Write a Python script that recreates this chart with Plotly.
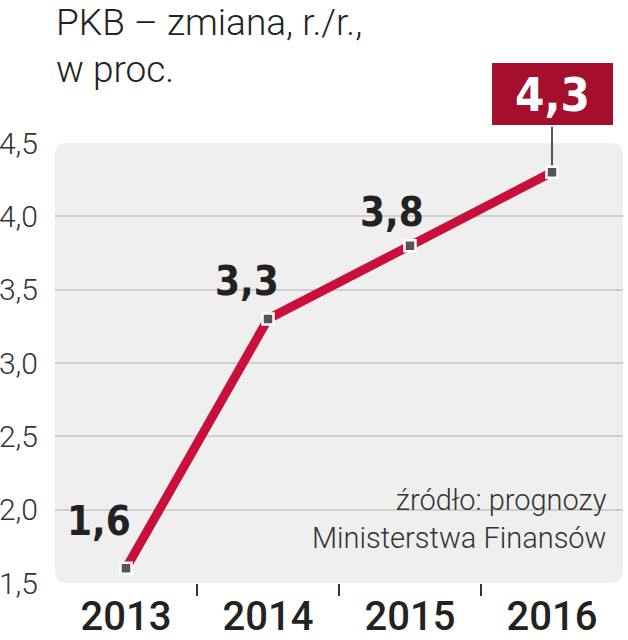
import plotly.graph_objects as go

# dane: PKB - zmiana r./r., w proc.
years = [2013, 2014, 2015, 2016]
gdp = [1.6, 3.3, 3.8, 4.3]
labels = ["1,6", "3,3", "3,8", "4,3"]
y_ticks = [1.5, 2.0, 2.5, 3.0, 3.5, 4.0, 4.5]

LINE_RED = "#c8103a"
BOX_RED = "#a30f2c"
TXT = "#222222"
BOLD_FONT = "DejaVu Sans Condensed, DejaVu Sans, sans-serif"

fig = go.Figure()

fig.add_trace(go.Scatter(
    x=years, y=gdp,
    mode="lines+markers",
    line=dict(color=LINE_RED, width=9),
    marker=dict(symbol="square", size=11, color="#555555",
                line=dict(color="white", width=2.5)),
    hoverinfo="skip",
    showlegend=False,
))

# etykiety wartosci (bez ostatniej, ktora jest w ramce)
offsets = [(-27, 47), (-21, 38), (-18, 34)]
for x, y, t, (dx, dy) in zip(years[:-1], gdp[:-1], labels[:-1], offsets):
    fig.add_annotation(
        x=x, y=y, text=t, showarrow=False,
        xshift=dx, yshift=dy,
        font=dict(family=BOLD_FONT, size=40, color=TXT, weight="bold"),
    )

# ramka z wartoscia 2016
fig.add_annotation(
    x=years[-1], y=gdp[-1], text=labels[-1],
    showarrow=True, arrowhead=0, arrowwidth=1.5, arrowcolor="#222222",
    ax=0, ay=-78, standoff=7,
    bgcolor=BOX_RED, bordercolor="white", borderwidth=3, borderpad=4,
    width=113, height=54,
    font=dict(family=BOLD_FONT, size=47, color="white", weight="bold"),
)
# cienka szara obwodka wokol ramki
fig.add_shape(type="rect", xref="x", yref="y",
              xsizemode="pixel", ysizemode="pixel",
              xanchor=years[-1], yanchor=gdp[-1],
              x0=-64.5, x1=64.5, y0=43, y1=113,
              line=dict(color="#c8c8c8", width=1), layer="above")

# zaokraglone tlo obszaru wykresu
rx, ry = 12 / 568, 12 / 440
path = (f"M {rx},0 L {1-rx},0 Q 1,0 1,{ry} L 1,{1-ry} Q 1,1 {1-rx},1 "
        f"L {rx},1 Q 0,1 0,{1-ry} L 0,{ry} Q 0,0 {rx},0 Z")
fig.add_shape(type="path", path=path, xref="x domain", yref="y domain",
              fillcolor="#efefef", line=dict(width=0), layer="below")

# tytul (dwie linie osobno, wiekszy odstep niz domyslny)
title_lines = ["PKB – zmiana, r./r.,", "w proc."]
title_tops = [143, 96]   # odleglosc gornej krawedzi linii od obszaru wykresu, px
for line, top in zip(title_lines, title_tops):
    fig.add_annotation(
        xref="paper", yref="paper", x=0.0, y=1 + top / 440,
        xanchor="left", yanchor="top", borderpad=0,
        text=line, showarrow=False, align="left",
        font=dict(family="Roboto", size=37, color=TXT, weight=300),
    )

# zrodlo
fig.add_annotation(
    xref="paper", yref="paper", x=1.0, y=0.0, xanchor="right", yanchor="bottom",
    xshift=-14, yshift=26,
    text="źródło: prognozy<br>Ministerstwa Finansów", showarrow=False, align="right",
    font=dict(family="Roboto", size=29, color="#333333", weight=300),
)

fig.update_xaxes(
    range=[2012.5, 2016.5], automargin=False,
    tickvals=years, ticktext=[str(y) for y in years],
    showgrid=False, zeroline=False, showline=False,
    ticks="outside", ticklen=9, tickcolor="rgba(0,0,0,0)",
    ticklabelstandoff=-11,
    tickfont=dict(family="Roboto", size=40, color=TXT, weight=500),
    minor=dict(tickvals=[2013.5, 2014.5, 2015.5], ticks="outside",
               ticklen=12, tickwidth=2, tickcolor="#333333", showgrid=False),
    fixedrange=True,
)

fig.update_yaxes(
    range=[1.5, 4.5], automargin=False,
    tickvals=y_ticks, tickformat=".1f",
    showgrid=False, zeroline=False, showline=False,
    ticks="outside", ticklen=10, tickcolor="rgba(0,0,0,0)",
    tickfont=dict(family="Roboto", size=30, color="#333333", weight=300),
    minor=dict(tickvals=[2.0, 2.5, 3.0, 3.5, 4.0], showgrid=True,
               gridcolor="#cfcfcf", gridwidth=1.5, ticks=""),
    fixedrange=True,
)

fig.update_layout(
    width=628, height=640,
    margin=dict(l=55, r=5, t=143, b=57),
    paper_bgcolor="white", plot_bgcolor="rgba(0,0,0,0)",
    separators=", ",
    showlegend=False,
)

# bez marginesow strony, zeby wykres wypelnial okno 628x640
fig.write_html(
    "out.html",
    config={"displayModeBar": False},
    post_script="document.body.style.margin='0';document.body.style.overflow='hidden';",
)
